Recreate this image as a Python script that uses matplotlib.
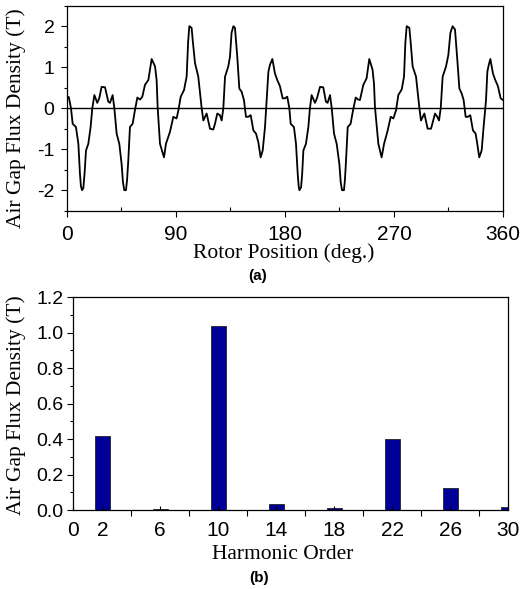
import numpy as np
import matplotlib.pyplot as plt
from matplotlib.ticker import MultipleLocator, FixedLocator

# (a) air gap flux density waveform
rotor_deg = [
    0.0, 1.5, 3.3, 4.7, 7.4, 9.4, 10.7, 11.5, 12.4, 13.5, 14.5, 15.7, 17.6, 19.5,
    20.9, 22.6, 25.0, 26.6, 28.6, 31.4, 34.1, 35.5, 37.7, 39.1, 41.0, 43.2, 45.1,
    46.2, 47.3, 48.7, 49.6, 50.6, 52.0, 54.2, 56.1, 58.1, 60.3, 62.2, 64.4, 67.2,
    69.9, 72.7, 74.0, 74.9, 76.8, 80.1, 81.7, 85.0, 87.8, 90.5, 92.0, 93.9, 96.6,
    98.8, 100.0, 101.0, 102.9, 104.0, 105.7, 108.4, 111.2, 112.6, 115.3, 118.1,
    120.8, 122.2, 124.1, 126.3, 127.7, 129.1, 130.5, 133.2, 134.6, 135.9, 137.4,
    138.7, 140.6, 142.3, 144.2, 146.1, 147.8, 149.6, 151.7, 153.9, 156.1, 158.0,
    159.9, 161.6, 163.5, 164.9, 166.3, 167.6, 169.6, 171.7, 173.6, 175.8, 178.1,
    180.0, 181.9, 183.6, 184.7, 187.4, 189.1, 190.5, 191.3, 191.9, 193.3, 194.2,
    195.2, 197.3, 199.3, 200.6, 202.0, 204.8, 206.6, 208.9, 211.6, 213.8, 215.2,
    217.2, 218.6, 220.5, 222.7, 224.9, 226.0, 227.1, 228.7, 229.5, 230.4, 231.8,
    234.2, 236.2, 238.4, 240.4, 241.9, 244.7, 247.4, 249.6, 252.3, 253.5, 254.3,
    257.1, 259.8, 261.8, 264.5, 267.3, 269.5, 271.7, 273.6, 276.4, 278.3, 279.4,
    280.5, 282.7, 283.8, 285.4, 288.2, 291.0, 292.3, 295.1, 297.8, 300.6, 303.9,
    305.8, 307.2, 308.6, 310.2, 313.0, 314.9, 316.6, 318.4, 320.4, 322.3, 324.0,
    325.9, 327.5, 329.2, 331.0, 333.0, 335.2, 337.4, 338.6, 340.4, 342.4, 344.0,
    346.0, 347.1, 348.3, 349.6, 351.7, 353.6, 355.8, 358.1, 360.0,
]
flux_density = [
    0.28, 0.27, 0.0, -0.38, -0.46, -0.87, -1.6, -1.9, -2.0, -1.95, -1.6, -1.03,
    -0.87, -0.46, 0.0, 0.32, 0.13, 0.24, 0.52, 0.51, 0.16, 0.13, 0.32, 0.0, -0.62,
    -0.87, -1.36, -1.8, -2.0, -2.0, -1.75, -1.28, -0.46, -0.38, -0.05, 0.26, 0.21,
    0.28, 0.57, 0.69, 1.2, 1.02, 0.69, 0.0, -0.87, -1.2, -0.87, -0.58, -0.21,
    -0.25, -0.05, 0.28, 0.44, 0.77, 1.6, 2.0, 1.96, 1.6, 1.1, 0.77, 0.0, -0.3,
    -0.13, -0.5, -0.52, -0.38, -0.13, -0.17, -0.3, 0.0, 0.77, 1.02, 1.26, 1.84,
    2.0, 1.96, 1.26, 0.48, 0.4, 0.2, -0.21, -0.21, -0.17, -0.54, -0.62, -0.83,
    -1.2, -1.03, -0.46, 0.2, 0.89, 1.06, 1.2, 0.85, 0.69, 0.54, 0.24,
    0.24, 0.28, 0.0, -0.38, -0.46, -0.87, -1.6, -1.9, -2.0, -1.93, -1.6,
    -1.03, -0.87, -0.46, 0.0, 0.32, 0.13, 0.26, 0.52, 0.51, 0.16, 0.13,
    0.32, 0.0, -0.62, -0.87, -1.36, -1.8, -2.0, -2.0, -1.75, -1.28, -0.46,
    -0.38, -0.05, 0.26, 0.21, 0.2, 0.57, 0.73, 1.2, 0.94, 0.6, 0.03,
    -0.87, -1.2, -0.87, -0.58, -0.21, -0.25, -0.05, 0.32, 0.46, 0.77, 1.6,
    2.0, 1.96, 1.6, 1.02, 0.77, 0.0, -0.3, -0.13, -0.5, -0.5, -0.13,
    -0.21, -0.3, 0.0, 0.77, 1.02, 1.3, 1.84, 2.0, 1.92, 1.18, 0.48,
    0.36, 0.2, -0.21, -0.21, -0.17, -0.54, -0.62, -0.83, -1.2, -1.03, -0.46,
    0.2, 0.89, 1.06, 1.2, 0.85, 0.69, 0.54, 0.24, 0.2,
]

# (b) harmonic spectrum
harmonic_order = [2, 6, 10, 14, 18, 22, 26, 30]
harmonic_amp = [0.417, 0.003, 1.04, 0.032, 0.01, 0.399, 0.122, 0.019]
order_ticks = [0, 2, 6, 10, 14, 18, 22, 26, 30]

serif = "Liberation Serif"
sans = "Liberation Sans"

fig = plt.figure(figsize=(5.3, 5.89), dpi=100)

# ---- top: waveform ----
ax1 = fig.add_axes([0.1264, 0.6423, 0.8226, 0.348])
ax1.plot(rotor_deg, flux_density, color="black", lw=1.3, solid_joinstyle="round")
ax1.axhline(0, color="black", lw=1.0)
ax1.set_xlim(0, 360)
ax1.set_ylim(-2.5, 2.5)
ax1.xaxis.set_major_locator(MultipleLocator(90))
ax1.xaxis.set_minor_locator(MultipleLocator(45))
ax1.set_yticks([-2, -1, 0, 1, 2])
ax1.set_yticklabels(["-2", "-1", "0", "1", "2"], family=sans)
ax1.yaxis.set_minor_locator(MultipleLocator(0.5))
ax1.tick_params(axis="x", which="major", direction="out", length=4, width=0.8,
                pad=6, labelsize=15)
ax1.tick_params(axis="x", which="minor", direction="in", length=3, width=0.8)
ax1.tick_params(axis="y", which="major", direction="out", length=4, width=0.8,
                pad=5, labelsize=14)
ax1.tick_params(axis="y", which="minor", direction="out", length=2.5, width=0.8)
for lab in ax1.get_xticklabels():
    lab.set_family(sans)

# ---- bottom: spectrum ----
ax2 = fig.add_axes([0.1383, 0.1341, 0.8208, 0.3611])
ax2.bar(harmonic_order, harmonic_amp, width=1.0, color="#000099",
        edgecolor="#222222", linewidth=0.6)
ax2.set_xlim(0, 30)
ax2.set_ylim(0, 1.2)
ax2.set_xticks(order_ticks)
ax2.set_xticklabels([str(v) for v in order_ticks], family=sans)
ax2.xaxis.set_minor_locator(FixedLocator([4, 8, 12, 16, 20, 24, 28]))
ax2.set_yticks([0.0, 0.2, 0.4, 0.6, 0.8, 1.0, 1.2])
ax2.set_yticklabels(["0.0", "0.2", "0.4", "0.6", "0.8", "1.0", "1.2"], family=sans)
ax2.yaxis.set_minor_locator(MultipleLocator(0.1))
ax2.tick_params(axis="x", which="major", direction="in", length=3, width=0.8,
                pad=8, labelsize=15)
ax2.tick_params(axis="x", which="minor", direction="out", length=4, width=0.8)
ax2.tick_params(axis="y", which="major", direction="out", length=4, width=0.8,
                pad=3, labelsize=14)
ax2.tick_params(axis="y", which="minor", direction="out", length=2.5, width=0.8)

for ax in (ax1, ax2):
    for s in ax.spines.values():
        s.set_linewidth(0.9)

# labels
ylab = "Air Gap Flux Density (T)"
fig.text(0.030, 0.800, ylab, rotation=90, ha="center", va="center",
         family=serif, fontsize=15.5)
fig.text(0.030, 0.3124, ylab, rotation=90, ha="center", va="center",
         family=serif, fontsize=15.5)
fig.text(0.536, 0.5705, "Rotor Position (deg.)", ha="center", va="center",
         family=serif, fontsize=15.5)
fig.text(0.534, 0.0585, "Harmonic Order", ha="center", va="center",
         family=serif, fontsize=15.5)
fig.text(0.487, 0.5314, "(a)", ha="center", va="center", family=sans,
         fontweight="bold", fontsize=11)
fig.text(0.4887, 0.0187, "(b)", ha="center", va="center", family=sans,
         fontweight="bold", fontsize=11)

fig.savefig("out.png", dpi=100)
